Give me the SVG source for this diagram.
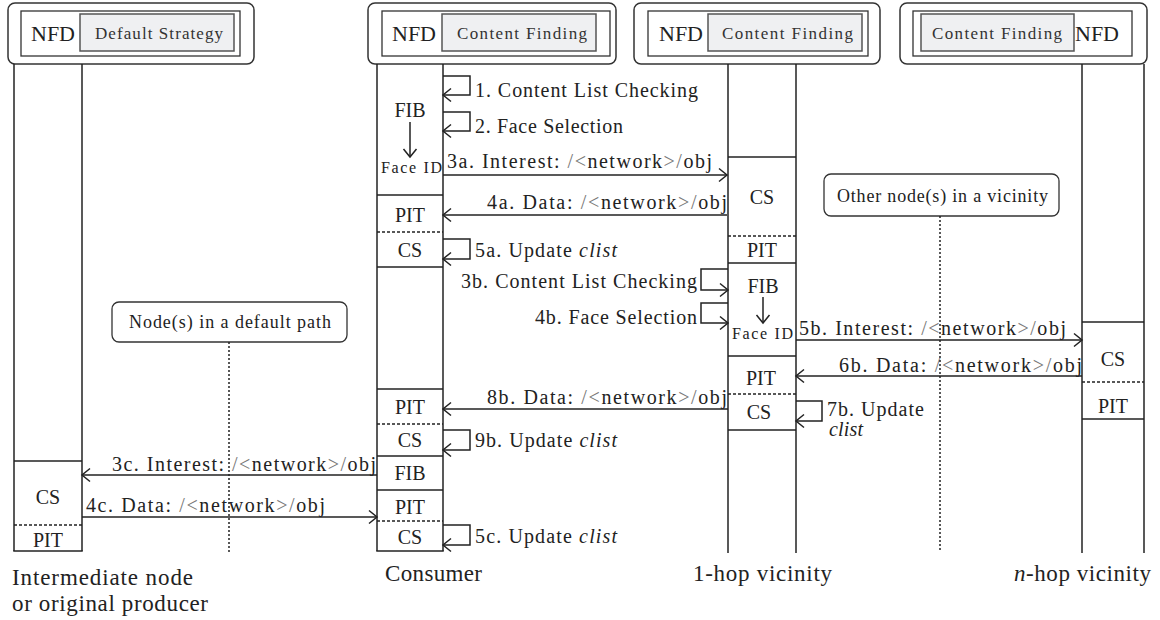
<svg xmlns="http://www.w3.org/2000/svg" width="1160" height="620" viewBox="0 0 1160 620">
<defs>
<marker id="ah" viewBox="-10 -8 12 16" markerWidth="12" markerHeight="16" refX="0" refY="0" markerUnits="userSpaceOnUse" orient="auto">
<path d="M-8,-6.5 L0,0 L-8,6.5" fill="none" stroke="#222" stroke-width="1.5"/>
</marker>
</defs>
<style>
text{font-family:Liberation Serif, Times New Roman, Tinos, DejaVu Serif, Noto Serif, serif;fill:#222}
.hdr{fill:#fff;stroke:#333;stroke-width:1.5}
.inner{fill:#fff;stroke:#333;stroke-width:1.3}
.gray{fill:#eff0f2;stroke:#555;stroke-width:1.5}
.ll{stroke:#222;stroke-width:1.5;fill:none}
.sep{stroke:#222;stroke-width:1.5}
.dash{stroke:#222;stroke-width:1.5;stroke-dasharray:3 2}
.dot{stroke:#222;stroke-width:1.5;stroke-dasharray:2 2}
.msg{fill:none;stroke:#222;stroke-width:1.5;marker-end:url(#ah)}
.nfd{font-size:22px}
.cf{font-size:17px;fill:#333}
.box{font-size:20px;text-anchor:middle}
.m{font-size:20px}
.sym{fill:#777}
.note{fill:#fff;stroke:#333;stroke-width:1.3}
.nt{font-size:18px}
.lab{font-size:23px}
.fid{font-size:16px}
.it{font-style:italic}
</style>

<g id="intermediate">
<rect class="hdr" x="8" y="3" width="246" height="61" rx="7"/>
<rect class="inner" x="21" y="11" width="219" height="45"/>
<rect class="gray" x="80" y="14" width="154" height="37"/>
<text class="nfd" x="31" y="41">NFD</text>
<text class="cf" x="95" y="39" textLength="128">Default Strategy</text>
<line class="ll" x1="14" y1="64" x2="14" y2="551"/>
<line class="ll" x1="82" y1="64" x2="82" y2="551"/>
<line class="sep" x1="14" y1="461" x2="82" y2="461"/>
<line class="dash" x1="14" y1="525" x2="82" y2="525"/>
<line class="sep" x1="13.25" y1="551" x2="82.75" y2="551"/>
<text class="box" x="48" y="504">CS</text>
<text class="box" x="48" y="547">PIT</text>
<text class="lab" x="12" y="585" textLength="181">Intermediate node</text>
<text class="lab" x="12" y="611" textLength="196">or original producer</text>
</g>

<g id="consumer">
<rect class="hdr" x="368" y="3" width="248" height="61" rx="7"/>
<rect class="inner" x="382" y="11" width="228" height="45"/>
<rect class="gray" x="442" y="14" width="154" height="37"/>
<text class="nfd" x="392" y="41">NFD</text>
<text class="cf" x="457" y="39" textLength="130">Content Finding</text>
<line class="ll" x1="377" y1="64" x2="377" y2="551"/>
<line class="ll" x1="443" y1="64" x2="443" y2="551"/>
<line class="sep" x1="377" y1="195" x2="443" y2="195"/>
<line class="dash" x1="377" y1="232" x2="443" y2="232"/>
<line class="sep" x1="377" y1="267" x2="443" y2="267"/>
<line class="sep" x1="377" y1="389" x2="443" y2="389"/>
<line class="dash" x1="377" y1="424" x2="443" y2="424"/>
<line class="sep" x1="377" y1="456" x2="443" y2="456"/>
<line class="sep" x1="377" y1="490" x2="443" y2="490"/>
<line class="dash" x1="377" y1="521" x2="443" y2="521"/>
<line class="sep" x1="376.25" y1="551" x2="443.75" y2="551"/>
<text class="box" x="410" y="117">FIB</text>
<line class="msg" x1="410" y1="122" x2="410" y2="157"/>
<text class="fid" x="381" y="173" textLength="61">Face ID</text>
<text class="box" x="410" y="222">PIT</text>
<text class="box" x="410" y="257">CS</text>
<text class="box" x="410" y="414">PIT</text>
<text class="box" x="410" y="447">CS</text>
<text class="box" x="410" y="480">FIB</text>
<text class="box" x="410" y="514">PIT</text>
<text class="box" x="410" y="544">CS</text>
<text class="lab" x="385" y="581" textLength="97">Consumer</text>
</g>

<g id="onehop">
<rect class="hdr" x="634" y="3" width="246" height="61" rx="7"/>
<rect class="inner" x="648" y="11" width="220" height="45"/>
<rect class="gray" x="708" y="14" width="154" height="37"/>
<text class="nfd" x="659" y="41">NFD</text>
<text class="cf" x="722" y="39" textLength="131">Content Finding</text>
<line class="ll" x1="728" y1="64" x2="728" y2="553"/>
<line class="ll" x1="796" y1="64" x2="796" y2="553"/>
<line class="sep" x1="728" y1="157" x2="796" y2="157"/>
<line class="dash" x1="728" y1="236" x2="796" y2="236"/>
<line class="sep" x1="728" y1="263" x2="796" y2="263"/>
<line class="sep" x1="728" y1="356" x2="796" y2="356"/>
<line class="dash" x1="728" y1="394" x2="796" y2="394"/>
<line class="sep" x1="728" y1="430" x2="796" y2="430"/>
<text class="box" x="762" y="204">CS</text>
<text class="box" x="762" y="257">PIT</text>
<text class="box" x="763" y="293">FIB</text>
<line class="msg" x1="763" y1="297" x2="763" y2="323"/>
<text class="fid" x="732" y="339" textLength="61">Face ID</text>
<text class="box" x="761" y="385">PIT</text>
<text class="box" x="759" y="419">CS</text>
<text class="lab" x="693" y="581" textLength="139">1-hop vicinity</text>
</g>

<g id="nhop">
<rect class="hdr" x="900" y="3" width="247" height="61" rx="7"/>
<rect class="inner" x="913" y="11" width="219" height="45"/>
<rect class="gray" x="921" y="14" width="153" height="37"/>
<text class="cf" x="932" y="39" textLength="130">Content Finding</text>
<text class="nfd" x="1075" y="41">NFD</text>
<line class="ll" x1="1082" y1="64" x2="1082" y2="553"/>
<line class="ll" x1="1144" y1="64" x2="1144" y2="553"/>
<line class="sep" x1="1082" y1="322" x2="1144" y2="322"/>
<line class="dash" x1="1082" y1="382" x2="1144" y2="382"/>
<line class="sep" x1="1082" y1="419" x2="1144" y2="419"/>
<text class="box" x="1113" y="366">CS</text>
<text class="box" x="1113" y="413">PIT</text>
<text class="lab" x="1014" y="581" textLength="137"><tspan class="it">n</tspan>-hop vicinity</text>
</g>

<g id="note-vicinity">
<rect class="note" x="824" y="174" width="235" height="42" rx="7"/>
<text class="nt" x="837" y="202" textLength="211">Other node(s) in a vicinity</text>
</g>

<g id="note-default">
<rect class="note" x="112" y="302" width="235" height="40" rx="7"/>
<text class="nt" x="129" y="328" textLength="202">Node(s) in a default path</text>
</g>

<g id="labels">
<text class="m" x="475" y="97" textLength="223">1. Content List Checking</text>
<text class="m" x="475" y="133" textLength="148">2. Face Selection</text>
<text class="m" x="447" y="168" textLength="265">3a. Interest: <tspan class="sym">/&lt;</tspan>network<tspan class="sym">&gt;/</tspan>obj</text>
<text class="m" x="487" y="209" textLength="240">4a. Data: <tspan class="sym">/&lt;</tspan>network<tspan class="sym">&gt;/</tspan>obj</text>
<text class="m" x="475" y="257" textLength="142">5a. Update <tspan class="it">clist</tspan></text>
<text class="m" x="461" y="288" textLength="236">3b. Content List Checking</text>
<text class="m" x="535" y="324" textLength="162">4b. Face Selection</text>
<text class="m" x="799" y="335" textLength="267">5b. Interest: <tspan class="sym">/&lt;</tspan>network<tspan class="sym">&gt;/</tspan>obj</text>
<text class="m" x="839" y="372" textLength="243">6b. Data: <tspan class="sym">/&lt;</tspan>network<tspan class="sym">&gt;/</tspan>obj</text>
<text class="m" x="827" y="416" textLength="97">7b. Update</text>
<text class="m it" x="829" y="436" textLength="34">clist</text>
<text class="m" x="487" y="404" textLength="240">8b. Data: <tspan class="sym">/&lt;</tspan>network<tspan class="sym">&gt;/</tspan>obj</text>
<text class="m" x="475" y="447" textLength="142">9b. Update <tspan class="it">clist</tspan></text>
<text class="m" x="112" y="471" textLength="264">3c. Interest: <tspan class="sym">/&lt;</tspan>network<tspan class="sym">&gt;/</tspan>obj</text>
<text class="m" x="86" y="512" textLength="239">4c. Data: <tspan class="sym">/&lt;</tspan>network<tspan class="sym">&gt;/</tspan>obj</text>
<text class="m" x="475" y="543" textLength="142">5c. Update <tspan class="it">clist</tspan></text>
</g>

<g id="connectors">
<line class="dot" x1="940" y1="216" x2="940" y2="551"/>
<line class="dot" x1="229" y1="342" x2="229" y2="552"/>
<path class="msg" d="M443,76 H470 V95 H443"/>
<path class="msg" d="M443,112 H470 V131 H443"/>
<path class="msg" d="M443,175 H727"/>
<path class="msg" d="M727,215 H443"/>
<path class="msg" d="M443,239 H470 V259 H443"/>
<path class="msg" d="M728,269 H701 V290 H728"/>
<path class="msg" d="M728,303 H701 V323 H728"/>
<path class="msg" d="M796,340 H1082"/>
<path class="msg" d="M1082,376 H796"/>
<path class="msg" d="M796,401 H822 V421 H796"/>
<path class="msg" d="M728,409 H443"/>
<path class="msg" d="M443,430 H470 V450 H443"/>
<path class="msg" d="M377,475 H82"/>
<path class="msg" d="M82,517 H377"/>
<path class="msg" d="M443,525 H470 V545 H443"/>
</g>
</svg>
